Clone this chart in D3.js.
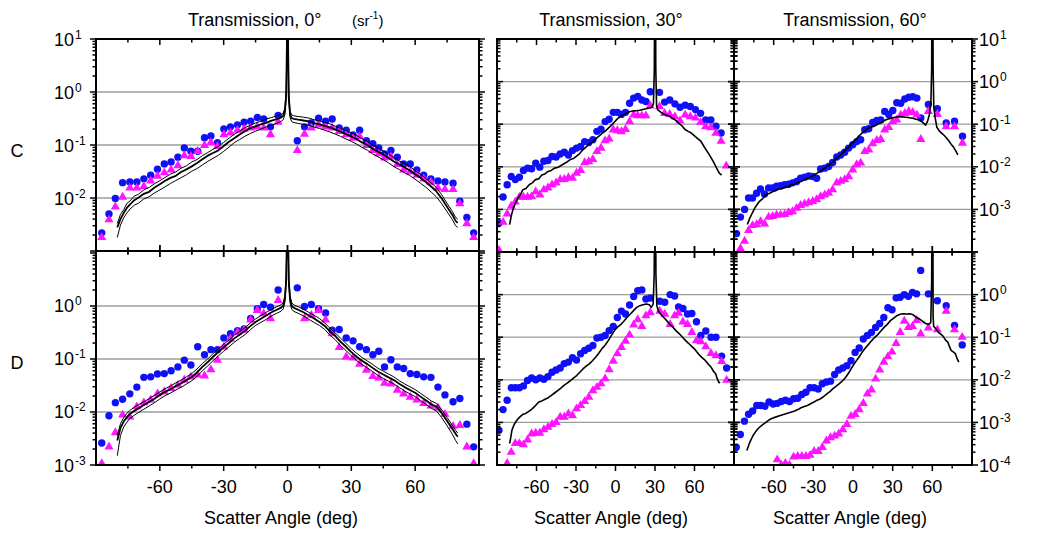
<!DOCTYPE html>
<html><head><meta charset="utf-8">
<script src="https://d3js.org/d3.v7.min.js"></script>
<style>
html,body{margin:0;padding:0;background:#fff;}
svg{display:block;}
</style></head>
<body><svg id="chart" width="1037" height="537"></svg>
<script>
// ---------------- DATA ----------------
const xTickLabels = [-60, -30, 0, 30, 60];
const xMinorTicks = [-75, -45, -15, 15, 45, 75];
const titles = ["Transmission, 0\u00B0", "Transmission, 30\u00B0", "Transmission, 60\u00B0"];
const rowLabels = ["C", "D"];
const xTitle = "Scatter Angle (deg)";
const leftTopExps = [1, 0, -1, -2];
const leftBotExps = [0, -1, -2, -3];
const rightTopExps = [1, 0, -1, -2, -3];
const rightBotExps = [0, -1, -2, -3, -4];

// 0 deg incidence (rows C and D share the measurement angles)
const L_ang = [-87.3,-83.9,-80.9,-77.5,-74.1,-70.8,-67.5,-64.3,-61.1,-57.9,-54.7,-51.5,-48.5,-45.4,-42.2,-39,-36,-32.9,-29.9,-26.8,-23.5,-20.4,-17.3,-14.2,-11.2,-8,-4.4,
  4.6,8,11.2,14.6,17.9,21,24.3,27.6,30.8,33.9,37.1,40.1,42.9,45.6,48.6,51.6,54.6,57.7,60.8,64,67.4,70.7,74,77.8,81,84.3,87.5];
const TL_blue = [2.2e-3,5.0e-3,9.8e-3,0.0195,0.020,0.020,0.023,0.027,0.035,0.044,0.048,0.059,0.088,0.076,0.076,0.137,0.148,0.11,0.20,0.22,0.24,0.27,0.28,0.33,0.31,0.22,0.36,
  0.12,0.22,0.26,0.32,0.28,0.31,0.21,0.19,0.155,0.19,0.12,0.106,0.088,0.068,0.079,0.059,0.044,0.044,0.034,0.027,0.023,0.021,0.020,0.019,0.0087,0.0043,0.0022];
const TL_mag = [1.8e-3,3.9e-3,6.8e-3,0.0104,0.0155,0.0155,0.0166,0.021,0.026,0.030,0.034,0.041,0.063,0.061,0.076,0.098,0.112,0.094,0.157,0.17,0.19,0.20,0.21,0.22,0.21,0.157,0.27,
  0.079,0.16,0.21,0.24,0.22,0.21,0.18,0.157,0.135,0.145,0.098,0.079,0.069,0.057,0.06,0.043,0.034,0.031,0.027,0.023,0.020,0.0153,0.0145,0.0145,0.0078,0.0033,0.0018];
const BL_blue = [2.6e-3,8.5e-3,0.015,0.0174,0.022,0.0295,0.045,0.046,0.052,0.053,0.06,0.071,0.095,0.077,0.17,0.12,0.15,0.15,0.25,0.30,0.34,0.37,0.58,0.89,1.07,0.95,2.0,
  2.2,0.98,1.07,0.89,0.74,0.35,0.36,0.25,0.22,0.17,0.15,0.12,0.14,0.071,0.097,0.071,0.066,0.053,0.051,0.046,0.045,0.0295,0.021,0.0156,0.018,5.9e-3,2.2e-3];
const BL_mag = [1.07e-3,2.2e-3,4.1e-3,8.8e-3,8.1e-3,0.0126,0.015,0.017,0.022,0.024,0.028,0.032,0.040,0.046,0.05,0.048,0.063,0.095,0.17,0.24,0.32,0.35,0.55,0.83,0.72,0.58,1.28,
  null,0.58,0.67,0.83,0.55,0.30,0.165,0.11,0.105,0.08,0.062,0.047,0.044,0.035,0.034,0.026,0.022,0.019,0.017,0.0145,0.013,0.012,9.1e-3,5.4e-3,5.6e-3,2.2e-3,1.07e-3];

const L_lineAng = [-80,-78.5,-77,-75.5,-74,-72,-70,-67.5,-65,-62.5,-60,-57.5,-55,-52.5,-50,-47.5,-45,-42.5,-40,-37.5,-35,-32.5,-30,-27.5,-25,-22.5,-20,-17.5,-15,-12.5,-10,-7.5,-5,-3,-2,-1.2,-0.6,-0.25,
  0,0.25,0.6,1.2,2,3,5,7.5,10,12.5,15,17.5,20,22.5,25,27.5,30,32.5,35,37.5,40,42.5,45,47.5,50,52.5,55,57.5,60,62.5,65,67.5,70,72.5,75,77.5,79,80];
const TL_lineMid = [2.8e-3,4.0e-3,5.2e-3,6.5e-3,7.6e-3,9.1e-3,0.0102,0.012,0.0131,0.0158,0.0182,0.0211,0.024,0.0262,0.031,0.0347,0.0395,0.0457,0.0537,0.063,0.0708,0.079,0.0955,0.115,0.134,0.158,0.182,0.209,0.224,0.245,0.262,0.288,0.309,0.331,0.355,0.44,0.9,10,
  300,10,0.8,0.38,0.32,0.31,0.30,0.29,0.28,0.26,0.245,0.23,0.215,0.195,0.178,0.16,0.145,0.13,0.112,0.1,0.085,0.075,0.066,0.057,0.049,0.043,0.038,0.033,0.028,0.024,0.02,0.0165,0.0133,0.0098,0.0068,0.0048,0.0037,0.0034];
const TL_lineUp = [3.3e-3,4.9e-3,6.0e-3,7.9e-3,8.8e-3,0.0109,0.0118,0.0143,0.0158,0.0186,0.0212,0.0245,0.0282,0.031,0.0365,0.0405,0.048,0.053,0.063,0.072,0.083,0.094,0.112,0.134,0.16,0.182,0.212,0.236,0.26,0.282,0.31,0.33,0.355,0.375,0.4,0.5,1.1,12,
  300,12,0.95,0.43,0.37,0.355,0.345,0.335,0.322,0.3,0.285,0.268,0.25,0.226,0.205,0.186,0.168,0.152,0.13,0.117,0.1,0.088,0.077,0.067,0.058,0.05,0.045,0.039,0.033,0.028,0.0235,0.0192,0.0157,0.0115,0.0079,0.0056,0.0043,0.004];
const TL_lineLo = [1.8e-3,3.1e-3,4.2e-3,5.2e-3,6.2e-3,7.3e-3,8.0e-3,9.6e-3,0.0106,0.0125,0.0142,0.0163,0.0188,0.0214,0.0242,0.0275,0.032,0.036,0.042,0.049,0.056,0.064,0.076,0.091,0.111,0.127,0.146,0.165,0.182,0.2,0.22,0.238,0.257,0.28,0.3,0.38,0.8,9,
  300,9,0.7,0.33,0.275,0.265,0.255,0.245,0.235,0.218,0.205,0.19,0.176,0.16,0.145,0.13,0.117,0.104,0.09,0.08,0.068,0.06,0.053,0.046,0.039,0.0345,0.03,0.0265,0.0225,0.019,0.016,0.013,0.0105,0.0078,0.0055,0.0039,0.003,0.0028];
const BL_lineMid = [2.9e-3,5.0e-3,6.6e-3,7.9e-3,9.3e-3,0.0105,0.0117,0.0135,0.0155,0.0178,0.0209,0.024,0.0269,0.031,0.0347,0.0398,0.0457,0.056,0.0708,0.087,0.11,0.135,0.166,0.2,0.245,0.288,0.339,0.417,0.5,0.575,0.66,0.76,0.85,0.93,1.02,1.4,3.2,30,
  300,30,3.0,1.35,1.0,0.92,0.85,0.76,0.66,0.58,0.5,0.42,0.33,0.27,0.21,0.17,0.135,0.11,0.093,0.08,0.068,0.058,0.051,0.045,0.04,0.034,0.0295,0.026,0.023,0.0195,0.0166,0.014,0.0126,0.0095,0.0068,0.0048,0.0039,0.0034];
const BL_lineUp = [3.6e-3,6.0e-3,7.8e-3,9.4e-3,0.0108,0.0123,0.0138,0.0155,0.018,0.0205,0.024,0.0275,0.031,0.0355,0.04,0.046,0.053,0.065,0.082,0.1,0.126,0.155,0.19,0.228,0.28,0.33,0.39,0.475,0.57,0.66,0.76,0.86,0.97,1.06,1.15,1.6,3.6,32,
  300,32,3.4,1.55,1.15,1.05,0.97,0.87,0.76,0.67,0.58,0.48,0.38,0.31,0.245,0.196,0.156,0.128,0.107,0.092,0.079,0.067,0.059,0.052,0.046,0.039,0.034,0.03,0.0265,0.0225,0.0192,0.0162,0.0145,0.011,0.0079,0.0056,0.0045,0.004];
const BL_lineLo = [1.5e-3,3.6e-3,5.2e-3,6.4e-3,7.6e-3,8.7e-3,9.8e-3,0.0113,0.013,0.015,0.0176,0.0203,0.0228,0.026,0.0293,0.0336,0.0388,0.047,0.06,0.074,0.093,0.114,0.14,0.17,0.207,0.245,0.288,0.355,0.43,0.49,0.56,0.65,0.73,0.8,0.88,1.2,2.8,28,
  300,28,2.6,1.15,0.86,0.79,0.73,0.65,0.56,0.49,0.43,0.36,0.28,0.23,0.178,0.145,0.115,0.093,0.079,0.068,0.058,0.049,0.043,0.038,0.034,0.029,0.025,0.022,0.0195,0.0165,0.014,0.0118,0.0105,0.0078,0.0055,0.0038,0.0029,0.0025];

// 30 deg incidence
const TM_ang = [-88.5,-85.4,-82.3,-79.2,-76.1,-73,-69.9,-66.8,-63.7,-60.6,-57.5,-54.4,-51.3,-48.2,-45.1,-42,-38.9,-35.8,-32.7,-29.6,-26.5,-23.4,-20.3,-17.2,-14.1,-11,-7.9,-4.8,-1.7,1.4,4.5,7.6,10.7,13.8,16.9,20,23.1,26.4,
  33.4,37.3,41.2,45.1,49,52.9,56.8,60.7,64.6,68.5,72.4,76.3,80.2,84.1];
const TM_blue = [4.8e-4,1.95e-3,3.8e-3,5.9e-3,5.0e-3,5.7e-3,8.2e-3,9.3e-3,9.0e-3,0.0122,9.8e-3,0.0135,0.014,0.0174,0.017,0.020,0.022,0.019,0.024,0.0275,0.030,0.039,0.037,0.043,0.068,0.076,0.115,0.131,0.19,0.19,0.17,0.19,0.31,0.41,0.45,0.37,0.34,0.58,
  0.56,0.33,0.37,0.30,0.25,0.28,0.26,0.22,0.18,0.125,0.125,0.09,0.062,null];
const TM_mag = [1.1e-4,5.0e-4,7.9e-4,1.2e-3,1.5e-3,1.95e-3,1.95e-3,1.95e-3,2.0e-3,2.6e-3,2.2e-3,2.9e-3,3.2e-3,3.8e-3,4.2e-3,5.0e-3,5.1e-3,5.6e-3,5.4e-3,7.1e-3,8.2e-3,0.0126,0.0133,0.015,0.023,0.0275,0.041,0.045,0.074,0.071,0.067,0.076,0.115,0.165,0.158,0.158,0.158,0.27,
  0.26,0.18,0.17,0.15,0.12,0.165,0.15,0.14,0.11,0.088,0.083,0.062,0.04,0.0105];
const TM_lineAng = [-80.4,-79.2,-77.6,-75.8,-74,-72.2,-70.4,-68,-65.6,-63.2,-60.8,-58.4,-56,-53.6,-51.2,-48.8,-46.4,-44,-41.6,-39.2,-36.8,-34.4,-32,-29.6,-27.2,-24.8,-22.4,-20,-17.6,-15.2,-12.8,-10.4,-8,-5.6,-3.2,-0.8,1.6,4,6.4,8.8,11.2,13.6,16,18.4,20.8,23.2,25.6,27.6,28.8,29.5,29.8,30.3,30.6,31.2,32,33.6,36,38.4,40.8,43.2,45.6,48,50.4,52.8,55.2,57.6,60,62.4,64.8,67.2,69.6,72,74.4,76.8,78.8,80.6];
const TM_line = [4.4e-4,7e-4,1.07e-3,1.45e-3,1.86e-3,2.2e-3,2.9e-3,3.1e-3,3.8e-3,4.2e-3,5.0e-3,5.2e-3,6.4e-3,6.8e-3,7.8e-3,8.2e-3,9.3e-3,9.6e-3,0.0106,0.0118,0.013,0.0148,0.0156,0.0178,0.0205,0.025,0.029,0.034,0.038,0.045,0.052,0.06,0.068,0.08,0.094,0.113,0.135,0.155,0.168,0.185,0.198,0.205,0.207,0.212,0.222,0.23,0.24,0.25,0.3,2,1000,1000,2,0.27,0.22,0.2,0.176,0.165,0.155,0.138,0.125,0.106,0.092,0.075,0.068,0.062,0.053,0.046,0.04,0.03,0.023,0.0175,0.013,0.0093,0.0071,0.0064];

const BM_ang = [-88.5,-85.4,-82.3,-79.2,-76.1,-73,-69.9,-66.8,-63.7,-60.6,-57.5,-54.4,-51.3,-48.2,-45.1,-42,-38.9,-35.8,-32.7,-29.6,-26.5,-23.4,-20.3,-17.2,-14.1,-11,-7.9,-4.8,-1.7,1.4,4.5,7.6,10.7,13.8,16.9,20,23.1,26.4,
  33.6,37.4,41.5,44.9,47.9,51.2,54.7,58,61.5,64.8,68.6,72.5,76.3,80.6,84.4];
const BM_blue = [6.5e-4,2.0e-3,3.3e-3,6.5e-3,6.5e-3,6.5e-3,7.2e-3,9.6e-3,0.011,0.010,0.011,0.0103,0.0119,0.015,0.017,0.019,0.024,0.026,0.033,0.029,0.041,0.049,0.055,0.064,0.096,0.1,0.11,0.143,0.18,0.29,0.41,0.35,0.57,0.9,1.24,1.29,0.79,0.83,
  0.7,0.66,1.0,0.93,0.51,0.47,0.35,0.36,0.23,0.11,0.14,0.10,0.10,0.036,0.019];
const BM_mag = [null,null,1.1e-4,2.0e-4,3.2e-4,3.2e-4,3.0e-4,3.9e-4,5.4e-4,5.6e-4,5.6e-4,6.8e-4,7.7e-4,9.0e-4,1.0e-3,1.33e-3,1.33e-3,1.6e-3,1.45e-3,2.1e-3,2.5e-3,3.1e-3,3.9e-3,5.6e-3,6.7e-3,8.1e-3,0.0106,0.0174,0.0275,0.041,0.058,0.081,0.113,0.195,0.26,0.18,0.32,0.38,
  0.41,0.35,0.2,0.32,0.37,0.23,0.2,0.13,0.083,0.079,0.06,0.042,0.037,0.027,0.0098];
const BM_lineAng = [-80.4,-79.5,-78.7,-77,-75.5,-73.9,-72,-70.3,-68.5,-66.7,-65,-63.1,-60.7,-58.3,-55.9,-53.5,-51.1,-48.7,-46.3,-43.9,-41.5,-39.1,-36.7,-34.3,-31.9,-29.5,-27.1,-24.7,-22.3,-19.9,-17.5,-15.1,-12.7,-10.3,-7.9,-5.5,-3.1,-0.7,1.7,4.1,6.5,8.9,11.3,13.7,16.1,18.5,20.9,23.3,25.7,27.2,28.6,29.4,29.8,30.3,30.7,31.4,32.5,34.1,36.5,38.9,41.3,43.7,46.1,48.5,50.9,53.3,55.7,58.1,60.5,62.9,65.3,67.7,70.1,72.5,74.3,76.1,77.3,78.5,79.5];
const BM_line = [3.2e-4,4.5e-4,6.5e-4,8.9e-4,1.05e-3,1.23e-3,1.4e-3,1.55e-3,1.6e-3,1.74e-3,1.9e-3,2.1e-3,2.5e-3,3.0e-3,3.2e-3,3.5e-3,3.8e-3,4.3e-3,4.9e-3,5.6e-3,6.4e-3,7.4e-3,8.4e-3,9.5e-3,0.011,0.0126,0.015,0.018,0.021,0.0237,0.028,0.034,0.042,0.054,0.065,0.083,0.11,0.145,0.175,0.2,0.24,0.295,0.35,0.42,0.5,0.55,0.58,0.6,0.575,0.5,0.6,3,1000,1000,3,0.55,0.42,0.355,0.295,0.245,0.2,0.17,0.141,0.12,0.1,0.083,0.071,0.06,0.051,0.041,0.034,0.0295,0.024,0.02,0.016,0.0138,0.0105,0.0087,0.0085];

// 60 deg incidence
const TR_ang = [-88.1,-85.1,-82,-79,-76,-72.9,-69.9,-66.9,-63.8,-60.8,-57.8,-54.8,-51.7,-48.7,-45.7,-42.6,-39.6,-36.6,-33.5,-30.5,-27.5,-24.5,-21.4,-18.4,-15.4,-12.3,-9.3,-6.3,-3.3,-0.2,2.8,5.8,8.9,11.9,14.9,18,21,24,27,30.1,33.1,36.1,39.2,42.2,45.2,48.3,51.3,
  57,63.8,70.5,76.8,82.8];
const TR_blue = [2.7e-4,6.6e-4,1.0e-3,1.85e-3,1.85e-3,2.4e-3,3.0e-3,2.3e-3,3.2e-3,3.2e-3,3.5e-3,3.6e-3,3.8e-3,3.9e-3,4.2e-3,4.5e-3,5.4e-3,5.7e-3,6.1e-3,5.9e-3,5.4e-3,8.9e-3,9.3e-3,0.0102,0.0126,0.017,0.019,0.022,0.0275,0.033,0.039,0.043,0.074,0.078,0.11,0.122,0.126,0.2,0.17,0.21,0.32,0.31,0.39,0.43,0.44,0.41,0.14,
  0.29,0.23,0.107,0.117,0.052];
const TR_mag = [null,1.2e-4,1.8e-4,3.2e-4,4.2e-4,4.4e-4,5.2e-4,4.6e-4,6.6e-4,6.9e-4,7.4e-4,7.4e-4,7.6e-4,8.4e-4,8.9e-4,1.07e-3,1.25e-3,1.35e-3,1.45e-3,1.55e-3,1.7e-3,2.0e-3,2.2e-3,2.4e-3,2.9e-3,4.2e-3,4.6e-3,5.0e-3,5.9e-3,8.5e-3,0.0113,0.0123,0.023,0.025,0.035,0.042,0.044,0.074,0.084,0.115,0.126,0.165,0.18,0.2,0.19,0.165,0.044,
  0.2,0.17,0.088,0.088,0.036];
const TR_lineAng = [-79.9,-78.3,-76.7,-74.3,-72.5,-70.7,-68.3,-65.9,-63.5,-61,-58.6,-56.2,-53.8,-51.4,-49,-46.5,-44.1,-41.7,-39.3,-36.9,-34.5,-32,-29.6,-27.2,-24.8,-22.4,-20,-17.5,-15.1,-12.7,-10.3,-7.9,-5.5,-3.1,-0.6,1.8,4.2,6.6,9,11.4,13.8,16.3,18.7,21.1,23.5,25.9,28.3,30.8,33.2,35.6,38,40.4,42.8,45.2,47.7,50.1,52.5,54.9,56.5,57.8,58.9,59.5,59.8,60.3,60.6,61.1,62,63.4,65.2,67,68.8,70.6,72.4,74.2,76,77.6,79.3];
const TR_line = [4.4e-4,6e-4,7.6e-4,1.07e-3,1.3e-3,1.55e-3,1.8e-3,2.2e-3,2.35e-3,2.6e-3,2.75e-3,3.0e-3,3.05e-3,3.3e-3,3.4e-3,3.8e-3,3.9e-3,4.3e-3,4.5e-3,5.0e-3,5.3e-3,5.8e-3,6.2e-3,7.1e-3,7.8e-3,8.9e-3,0.0100,0.0112,0.0128,0.0158,0.0178,0.021,0.025,0.029,0.036,0.042,0.052,0.061,0.07,0.08,0.086,0.09,0.1,0.108,0.12,0.13,0.137,0.144,0.148,0.152,0.148,0.146,0.142,0.138,0.131,0.126,0.112,0.095,0.12,0.17,0.32,2,1000,1000,2,0.26,0.15,0.085,0.07,0.062,0.055,0.048,0.041,0.034,0.029,0.024,0.019];

const BR_ang = [-88.3,-85.2,-82.1,-79,-75.9,-72.8,-69.7,-66.6,-63.5,-60.4,-57.3,-54.2,-51.1,-48,-44.9,-41.8,-38.7,-35.6,-32.5,-29.4,-26.3,-23.2,-20.1,-17,-13.9,-10.8,-7.7,-4.6,-1.5,1.6,4.7,7.8,10.9,14,17.1,20.2,23.3,26.4,29.5,32.6,35.7,38.8,41.9,45,48.1,51.2,
  57,63.8,70.5,76.8,82.6];
const BR_blue = [2.6e-4,5.2e-4,1.07e-3,1.55e-3,1.85e-3,2.5e-3,2.5e-3,2.4e-3,3.0e-3,2.7e-3,2.8e-3,3.1e-3,3.3e-3,3.1e-3,3.6e-3,3.7e-3,4.5e-3,5.1e-3,6.5e-3,6.5e-3,6.1e-3,8.1e-3,8.9e-3,9.3e-3,0.0133,0.017,0.019,0.0215,0.028,0.044,0.056,0.091,0.11,0.13,0.17,0.21,0.29,0.49,0.44,0.84,0.87,1.0,0.91,1.13,1.04,3.7,
  1.04,0.72,0.55,0.19,0.066];
const BR_mag = [null,null,null,null,null,null,null,null,null,null,1.33e-4,1.0e-4,1.1e-4,1.0e-4,1.55e-4,1.6e-4,1.6e-4,1.6e-4,1.7e-4,2.1e-4,2.1e-4,2.6e-4,3.7e-4,4.4e-4,4.8e-4,5.4e-4,6.8e-4,9.0e-4,1.4e-3,1.55e-3,2.0e-3,2.8e-3,4.7e-3,5.8e-3,0.0105,0.017,0.026,0.035,0.045,0.072,0.13,0.24,0.17,0.18,0.25,0.12,
  0.166,0.15,0.41,0.15,0.1];
const BR_lineAng = [-80.3,-77.9,-75.5,-73.7,-71.9,-70.1,-68.3,-65.9,-63.4,-61,-58.6,-56.2,-53.8,-51.4,-48.9,-46.5,-44.1,-41.7,-39.3,-36.9,-34.5,-32,-29.6,-27.2,-24.8,-22.4,-20,-17.5,-15.1,-12.7,-10.3,-7.9,-5.5,-3.1,-0.6,1.8,4.2,6.6,9,11.4,13.8,16.3,18.7,21.1,23.5,25.9,28.3,30.8,33.2,35.6,38,40.4,42.8,45.2,47.7,50.1,52.5,54.9,57.3,58.8,59.5,59.8,60.3,60.6,61,62.8,64.6,66.4,68.2,70,71.8,73,74.2,75.8,77.4,79,80];
const BR_line = [2.2e-4,3.5e-4,5.0e-4,6.0e-4,7.1e-4,8.0e-4,8.9e-4,1.0e-3,1.15e-3,1.25e-3,1.33e-3,1.42e-3,1.5e-3,1.58e-3,1.66e-3,1.75e-3,1.86e-3,2.0e-3,2.2e-3,2.35e-3,2.5e-3,2.75e-3,3.0e-3,3.3e-3,3.55e-3,4.0e-3,4.6e-3,5.3e-3,6.2e-3,7.1e-3,8.1e-3,9.5e-3,0.0115,0.0148,0.02,0.026,0.033,0.043,0.054,0.066,0.081,0.098,0.115,0.14,0.17,0.2,0.245,0.28,0.32,0.345,0.355,0.35,0.355,0.34,0.295,0.27,0.237,0.21,0.2,0.22,2,1000,1000,0.3,0.18,0.155,0.13,0.118,0.105,0.085,0.076,0.06,0.049,0.045,0.041,0.03,0.026];

// ---------------- DRAWING ----------------
const FONT = '"Liberation Sans", Arial, Helvetica, sans-serif';
const BLUE = '#1010f8', MAG = '#ff14ff';
const svg = d3.select('#chart');
const defs = svg.append('defs');

function isDecade(t){ const l = Math.log10(t); return Math.abs(l - Math.round(l)) < 1e-9; }

const panels = [
  {key:'TL', x0:96, x1:479, y0:39, y1:251, yd:[1e-3,10], ang:L_ang, blue:TL_blue, mag:TL_mag,
   lines:[{a:L_lineAng,v:TL_lineUp,w:1},{a:L_lineAng,v:TL_lineLo,w:1},{a:L_lineAng,v:TL_lineMid,w:1.8}],
   yL:[-1,0], yR:[0,1], xTop:[0,1], xBot:[-1,1], labSide:'L', exps:leftTopExps, xlabels:false},
  {key:'BL', x0:96, x1:479, y0:251, y1:465, yd:[1e-3,10.9], ang:L_ang, blue:BL_blue, mag:BL_mag,
   lines:[{a:L_lineAng,v:BL_lineUp,w:1},{a:L_lineAng,v:BL_lineLo,w:1},{a:L_lineAng,v:BL_lineMid,w:1.8}],
   yL:[-1,0], yR:[0,1], xTop:[-1,1], xBot:[0,1], labSide:'L', exps:leftBotExps, xlabels:true, xt:281},
  {key:'TM', x0:497, x1:734, y0:39, y1:252, yd:[1e-4,10], ang:TM_ang, blue:TM_blue, mag:TM_mag,
   lines:[{a:TM_lineAng,v:TM_line,w:1.6}],
   yL:[0,1], yR:[-1,1], xTop:[0,1], xBot:[-1,1], labSide:null, xlabels:false},
  {key:'BM', x0:497, x1:734, y0:252, y1:465, yd:[1e-4,10], ang:BM_ang, blue:BM_blue, mag:BM_mag,
   lines:[{a:BM_lineAng,v:BM_line,w:1.6}],
   yL:[0,1], yR:[-1,1], xTop:[-1,1], xBot:[0,1], labSide:null, xlabels:true, xt:611},
  {key:'TR', x0:734, x1:972, y0:39, y1:252, yd:[1e-4,10], ang:TR_ang, blue:TR_blue, mag:TR_mag,
   lines:[{a:TR_lineAng,v:TR_line,w:1.6}],
   yL:[-1,1], yR:[0,1], xTop:[0,1], xBot:[-1,1], labSide:'R', exps:rightTopExps, xlabels:false},
  {key:'BR', x0:734, x1:972, y0:252, y1:465, yd:[1e-4,10], ang:BR_ang, blue:BR_blue, mag:BR_mag,
   lines:[{a:BR_lineAng,v:BR_line,w:1.6}],
   yL:[-1,1], yR:[0,1], xTop:[-1,1], xBot:[0,1], labSide:'R', exps:rightBotExps, xlabels:true, xt:850}
];

function drawPanel(p){
  const x = d3.scaleLinear().domain([-90,90]).range([p.x0,p.x1]);
  const y = d3.scaleLog().domain(p.yd).range([p.y1,p.y0]);
  const g = svg.append('g');
  const cid = 'clip-' + p.key;
  defs.append('clipPath').attr('id',cid).append('rect')
    .attr('x',p.x0).attr('y',p.y0).attr('width',p.x1-p.x0).attr('height',p.y1-p.y0);
  const inner = g.append('g').attr('clip-path',`url(#${cid})`);

  const yt = y.ticks();
  const decs = yt.filter(isDecade).filter(t => y(t) > p.y0+2 && y(t) < p.y1-2);
  inner.append('g').selectAll('line').data(decs).join('line')
    .attr('x1',p.x0).attr('x2',p.x1).attr('y1',d=>y(d)).attr('y2',d=>y(d))
    .attr('stroke','#9c9c9c').attr('stroke-width',1.3);

  const pts = d3.zip(p.ang, p.blue, p.mag);
  inner.append('g').selectAll('circle').data(pts.filter(d=>d[1]!=null)).join('circle')
    .attr('cx',d=>x(d[0])).attr('cy',d=>y(d[1])).attr('r',3.7).attr('fill',BLUE);
  const tri = d3.symbol(d3.symbolTriangle, 36);
  inner.append('g').selectAll('path').data(pts.filter(d=>d[2]!=null)).join('path')
    .attr('d',tri).attr('transform',d=>`translate(${x(d[0])},${y(d[2])})`).attr('fill',MAG);

  const lg = d3.line().x(d=>x(d[0])).y(d=>y(d[1]));
  p.lines.forEach(L => inner.append('path').attr('d', lg(d3.zip(L.a, L.v)))
    .attr('fill','none').attr('stroke','#000').attr('stroke-width',L.w).attr('stroke-linejoin','round'));

  g.append('rect').attr('x',p.x0).attr('y',p.y0).attr('width',p.x1-p.x0).attr('height',p.y1-p.y0)
    .attr('fill','none').attr('stroke','#000').attr('stroke-width',2);

  const tk = g.append('g').attr('stroke','#000').attr('stroke-width',1.5);
  yt.forEach(t => {
    const yy = y(t); const len = isDecade(t) ? 6 : 3.5;
    [[p.x0,p.yL],[p.x1,p.yR]].forEach(([xx,d]) => {
      tk.append('line').attr('x1',xx+d[0]*len).attr('x2',xx+d[1]*len).attr('y1',yy).attr('y2',yy);
    });
  });
  const xt = xTickLabels.map(v=>[v,6]).concat(xMinorTicks.map(v=>[v,3.5]));
  xt.forEach(([v,len]) => {
    const xx = x(v);
    [[p.y0,p.xTop],[p.y1,p.xBot]].forEach(([yy,d]) => {
      tk.append('line').attr('x1',xx).attr('x2',xx).attr('y1',yy+d[0]*len).attr('y2',yy+d[1]*len);
    });
  });

  if (p.labSide){
    p.exps.forEach(e => {
      const yy = y(Math.pow(10,e));
      if (p.labSide === 'L'){
        g.append('text').attr('x',74).attr('y',yy+6.5).attr('text-anchor','end')
          .attr('font-family',FONT).attr('font-size',18).text('10');
        g.append('text').attr('x',75).attr('y',yy-0.5)
          .attr('font-family',FONT).attr('font-size',12).text(String(e));
      } else {
        g.append('text').attr('x',979).attr('y',yy+6.5)
          .attr('font-family',FONT).attr('font-size',18).text('10');
        g.append('text').attr('x',1000).attr('y',yy-0.5)
          .attr('font-family',FONT).attr('font-size',12).text(String(e));
      }
    });
  }
  if (p.xlabels){
    xTickLabels.forEach(v => g.append('text').attr('x',x(v)).attr('y',493).attr('text-anchor','middle')
      .attr('font-family',FONT).attr('font-size',18).text(String(v)));
    g.append('text').attr('x',p.xt).attr('y',524).attr('text-anchor','middle')
      .attr('font-family',FONT).attr('font-size',18).text(xTitle);
  }
}
panels.forEach(drawPanel);

// titles
svg.append('text').attr('x',188).attr('y',26).attr('font-family',FONT).attr('font-size',18).text(titles[0]);
const sr = svg.append('text').attr('x',352).attr('y',26).attr('font-family',FONT).attr('font-size',15);
sr.append('tspan').text('(sr');
sr.append('tspan').attr('font-size',10).attr('dy',-7).text('-1');
sr.append('tspan').attr('dy',7).text(')');
svg.append('text').attr('x',611).attr('y',26).attr('text-anchor','middle').attr('font-family',FONT).attr('font-size',18).text(titles[1]);
svg.append('text').attr('x',855).attr('y',26).attr('text-anchor','middle').attr('font-family',FONT).attr('font-size',18).text(titles[2]);
svg.append('text').attr('x',17).attr('y',157).attr('text-anchor','middle').attr('font-family',FONT).attr('font-size',18).text(rowLabels[0]);
svg.append('text').attr('x',17).attr('y',369).attr('text-anchor','middle').attr('font-family',FONT).attr('font-size',18).text(rowLabels[1]);
</script>
</body></html>
